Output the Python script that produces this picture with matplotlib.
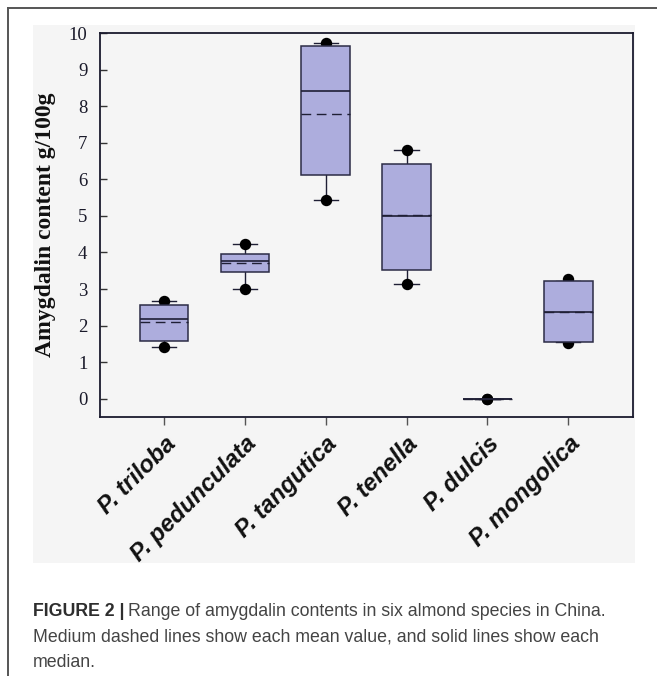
import matplotlib
matplotlib.use("Agg")
import matplotlib.pyplot as plt
from matplotlib.patches import Rectangle
from matplotlib.lines import Line2D

# Amygdalin content (g/100g) summary per species
species = ["P. triloba", "P. pedunculata", "P. tangutica", "P. tenella", "P. dulcis", "P. mongolica"]
q1 = [1.58, 3.47, 6.11, 3.52, 0.0, 1.55]
q3 = [2.56, 3.96, 9.65, 6.43, 0.0, 3.21]
median = [2.19, 3.77, 8.42, 4.99, 0.0, 2.36]
mean = [2.11, 3.70, 7.78, 5.01, 0.0, 2.37]
whisker_low = [1.41, 3.00, 5.44, 3.14, 0.0, 1.55]
whisker_high = [2.66, 4.22, 9.73, 6.80, 0.0, 3.21]
pct5 = [1.41, 3.00, 5.44, 3.14, 0.0, 1.52]
pct95 = [2.66, 4.22, 9.73, 6.80, 0.0, 3.28]
yticks = list(range(0, 11))

W, H = 657, 676
fig = plt.figure(figsize=(W / 100, H / 100), dpi=100)
fig.patch.set_facecolor("white")

def fx(px):
    return px / W

def fy(py):
    return 1 - py / H

# grey panel behind the plot
fig.patches.append(Rectangle((fx(33), fy(563)), fx(635) - fx(33), fy(25) - fy(563),
                             transform=fig.transFigure, facecolor="#f5f5f5",
                             edgecolor="none", zorder=-5))
# outer frame lines
fig.lines.append(Line2D([fx(8), fx(8)], [fy(8), 0], transform=fig.transFigure,
                        color="#555555", lw=1.4))
fig.lines.append(Line2D([fx(8), 1], [fy(8), fy(8)], transform=fig.transFigure,
                        color="#555555", lw=1.4))

ax = fig.add_axes([fx(100), fy(417), fx(633) - fx(100), fy(33) - fy(417)])
ax.set_zorder(2)
ax.set_facecolor("#f5f5f5")

stats = []
for i, name in enumerate(species):
    stats.append(dict(label=name, med=median[i], q1=q1[i], q3=q3[i],
                      whislo=whisker_low[i], whishi=whisker_high[i],
                      mean=mean[i], fliers=[pct5[i], pct95[i]]))

edge = "#2b2b45"
positions = list(range(len(species)))
bp = ax.bxp(stats, positions=positions, widths=0.6, capwidths=0.3,
            patch_artist=True, showmeans=True, meanline=True, showfliers=True,
            boxprops=dict(facecolor="#adaddd", edgecolor=edge, linewidth=1.1),
            medianprops=dict(color="#1f1f35", linewidth=1.2),
            meanprops=dict(color="#1f1f35", linewidth=1.0, linestyle=(0, (7, 4))),
            whiskerprops=dict(color="#1f1f35", linewidth=1.0),
            capprops=dict(color="#1f1f35", linewidth=1.0),
            flierprops=dict(marker="o", markerfacecolor="black", markeredgecolor="black",
                            markersize=7.2, linestyle="none"))
for art in bp["whiskers"] + bp["caps"]:
    art.set_zorder(1.5)
for art in bp["fliers"]:
    art.set_zorder(2)
for art in bp["boxes"]:
    art.set_zorder(3)
for art in bp["medians"] + bp["means"]:
    art.set_zorder(4)

ax.set_xlim(-0.79, 5.80)
ax.set_ylim(-0.5, 10)
ax.set_yticks(yticks)
ax.set_yticklabels([str(v) for v in yticks], fontfamily="Liberation Serif",
                   fontsize=13.5, color="#1a1a2a")
ax.set_xticks(positions)
ax.set_xticklabels(species, rotation=45, ha="right", va="top", rotation_mode="anchor",
                   fontfamily="Liberation Sans", fontweight="bold", fontstyle="italic",
                   fontsize=17.2, color="#111111")
ax.tick_params(axis="y", direction="in", length=5, width=1, color="#333333", pad=9,
               right=False)
ax.tick_params(axis="x", direction="out", length=6, width=1, color="#555555", pad=5)
for s in ax.spines.values():
    s.set_color("#1a1a2e")
    s.set_linewidth(1.3)

ax.set_ylabel("Amygdalin content g/100g", fontfamily="Liberation Serif",
              fontweight="bold", fontsize=17, color="#111111", labelpad=9)

# caption
r = fig.canvas.get_renderer()
cap_kw = dict(fontfamily="Liberation Sans", fontsize=12.8)
t0 = fig.text(fx(33), fy(616), "FIGURE 2 |", fontweight="bold", color="#2e2e2e",
              va="baseline", **cap_kw)
bb = t0.get_window_extent(r)
fig.text(bb.x1 / W + fx(4), fy(616),
         "Range of amygdalin contents in six almond species in China.",
         color="#444444", va="baseline", **cap_kw)
fig.text(fx(33), fy(642),
         "Medium dashed lines show each mean value, and solid lines show each",
         color="#444444", va="baseline", **cap_kw)
fig.text(fx(33), fy(667), "median.", color="#444444", va="baseline", **cap_kw)

fig.savefig("out.png", dpi=100)
